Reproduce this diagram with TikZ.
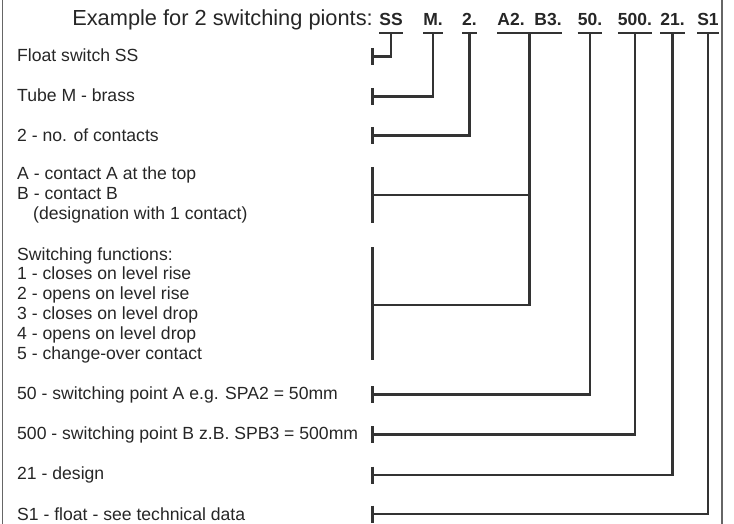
\documentclass[tikz,border=0pt]{standalone}
\usepackage{fontspec}
\setmainfont{Liberation Sans}
\usetikzlibrary{calc}
\begin{document}
\begin{tikzpicture}[x=1pt,y=-1pt,
  lbl/.style={anchor=west,inner sep=0pt,align=left,text=black!85,font=\fontsize{17.6}{19.8}\selectfont},
  code/.style={anchor=base,inner sep=0pt,text=black!85,font=\fontsize{17.5}{18}\selectfont\bfseries},
  link/.style={line width=2.3pt,draw=black!80},
  frame/.style={line width=1.3pt,draw=black!60}]
\useasboundingbox (0,0) rectangle (734,524);
\draw[frame] (2.7,0) -- (2.7,524);
\draw[frame] (722,0) -- (722,524);

\node[anchor=base east,inner sep=0pt,text=black!85,font=\fontsize{21.8}{24}\selectfont] (head) at (373,26) {Example for 2 switching pionts:};

\node[code] (ss) at (391,26) {SS};
\node[code] (m) at (433,26) {M.};
\node[code] (two) at (469.5,26) {2.};
\node[code] (a2) at (511,26) {A2.};
\node[code] (b3) at (548,26) {B3.};
\node[code] (fifty) at (590,26) {50.};
\node[code] (fivehundred) at (635,26) {500.};
\node[code] (twentyone) at (672.5,26) {21.};
\node[code] (sone) at (708,26) {S1};

\node[lbl] (float) at (17,55.5) {Float switch SS};
\node[lbl] (tube) at (17,95.5) {Tube M - brass};
\node[lbl] (contacts) at (17,135) {2 - no. of contacts};
\node[lbl] (contactab) at (17,195) {A - contact A at the top\\B - contact B\\\hspace*{16pt}(designation with 1 contact)};
\node[lbl] (functions) at (17,305) {Switching functions:\\1 - closes on level rise\\2 - opens on level rise\\3 - closes on level drop\\4 - opens on level drop\\5 - change-over contact};
\node[lbl] (pointa) at (17,395) {50 - switching point A e.g. SPA2 = 50mm};
\node[lbl] (pointb) at (17,435) {500 - switching point B z.B. SPB3 = 500mm};
\node[lbl] (design) at (17,475) {21 - design};
\node[lbl] (floatdata) at (17,514.5) {S1 - float - see technical data};

\coordinate (t1) at (372.5,56.5);
\coordinate (t2) at (372.5,96.5);
\coordinate (t3) at (372.5,135.5);
\coordinate (t4) at (372.5,195);
\coordinate (t5) at (372.5,305);
\coordinate (t6) at (372.5,394.5);
\coordinate (t7) at (372.5,434.5);
\coordinate (t8) at (372.5,475);
\coordinate (t9) at (372.5,514);
\coordinate (ab) at ($([yshift=-7pt]a2.base west)!0.5!([yshift=-7pt]b3.base east)$);

\foreach \c in {ss,m,two,fifty,fivehundred,twentyone,sone}
  \draw[link] ([yshift=-7pt]\c.base west) -- ([yshift=-7pt]\c.base east);
\draw[link] ([yshift=-7pt]a2.base west) -- ([yshift=-7pt]b3.base east);

\foreach \t in {t1,t2,t3,t6,t7,t8,t9}
  \draw[link] ([yshift=8.5pt]\t) -- ([yshift=-8.5pt]\t);
\draw[link] (372.5,167) -- (372.5,223);
\draw[link] (372.5,247) -- (372.5,360);

\draw[link] ([yshift=-7pt]ss.base) |- (t1);
\draw[link] ([yshift=-7pt]m.base) |- (t2);
\draw[link] ([yshift=-7pt]two.base) |- (t3);
\draw[link] (ab) |- (t5);
\draw[link] (ab |- t4) -- (t4);
\draw[link] ([yshift=-7pt]fifty.base) |- (t6);
\draw[link] ([yshift=-7pt]fivehundred.base) |- (t7);
\draw[link] ([yshift=-7pt]twentyone.base) |- (t8);
\draw[link] ([yshift=-7pt]sone.base) |- (t9);
\end{tikzpicture}
\end{document}
